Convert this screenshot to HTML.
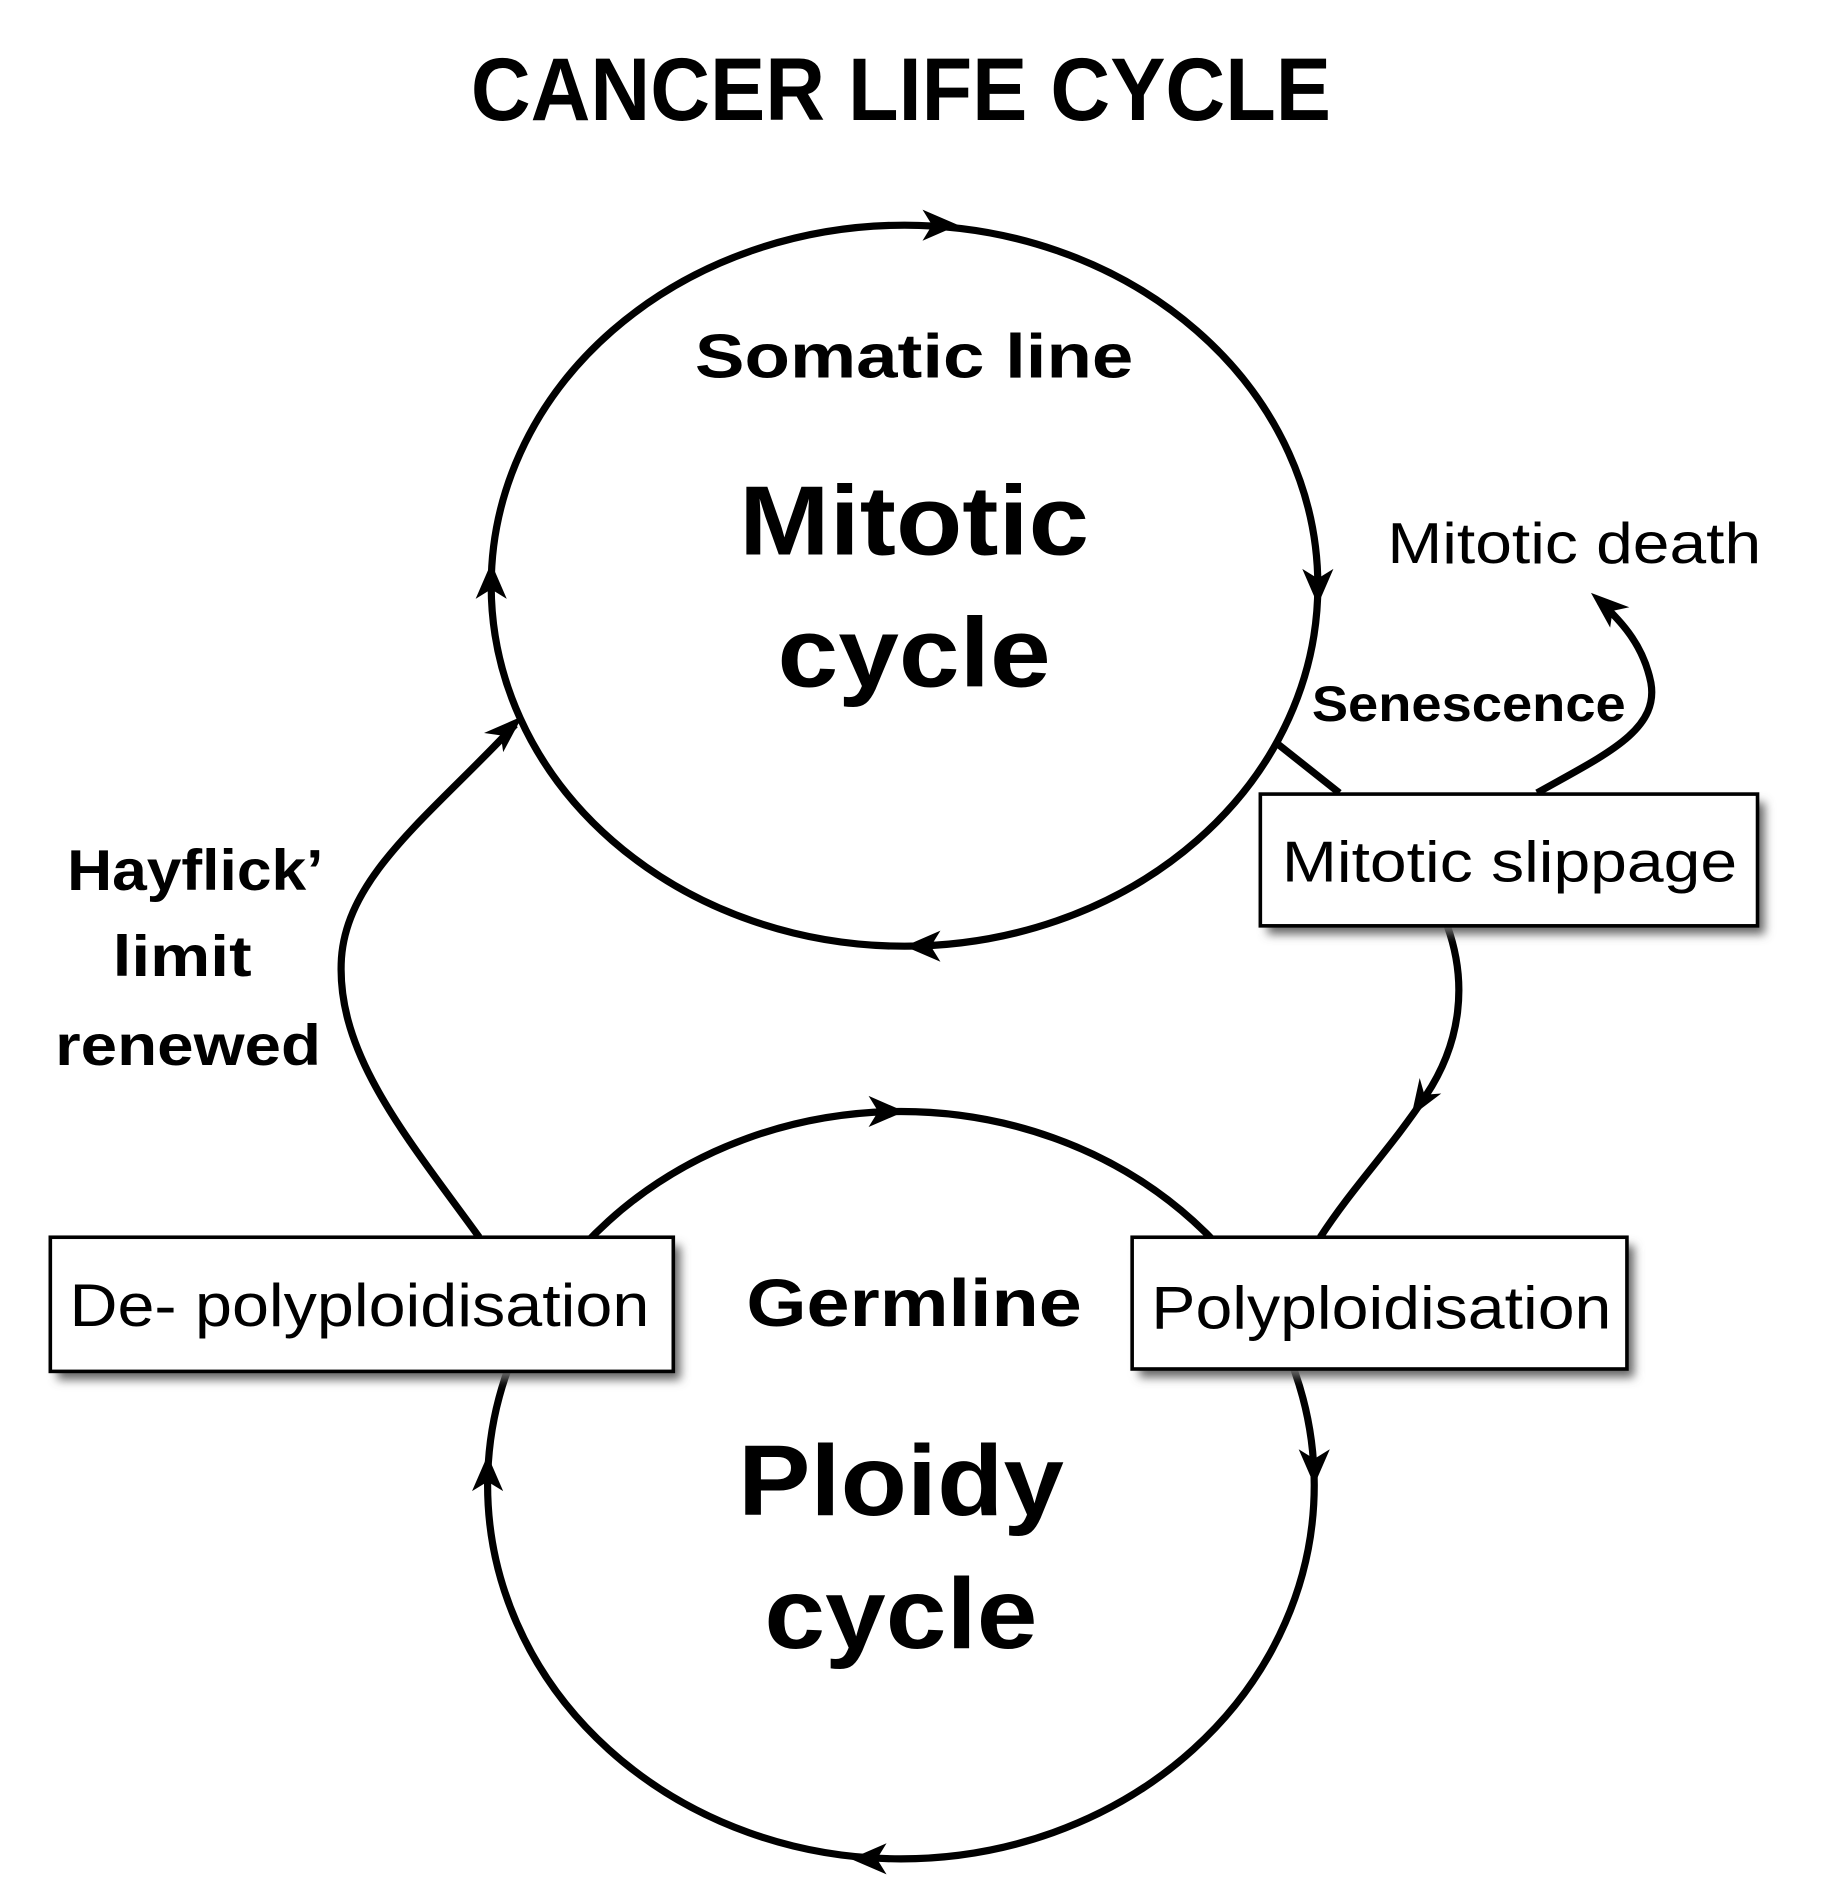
<!DOCTYPE html>
<html><head><meta charset="utf-8"><style>
html,body{margin:0;padding:0;background:#fff;}
svg{display:block;}
text{font-family:"Liberation Sans",sans-serif;fill:#000;}
</style></head><body>
<svg width="1833" height="1890" viewBox="0 0 1530 1578" preserveAspectRatio="none" xmlns="http://www.w3.org/2000/svg">
<defs>
<filter id="sh" x="-10%" y="-10%" width="130%" height="140%"><feGaussianBlur stdDeviation="4"/></filter>
</defs>
<rect width="1530" height="1578" fill="#fff"/>
<text x="752" y="100" font-size="74" font-weight="bold" text-anchor="middle" textLength="718" lengthAdjust="spacingAndGlyphs">CANCER LIFE CYCLE</text>

<g fill="none" stroke="#000" stroke-width="6">
<ellipse cx="755" cy="489" rx="345" ry="301"/>
<ellipse cx="752" cy="1240" rx="345" ry="312"/>
<path d="M400 1033 C340 950 280 880 285 800 C290 730 360 680 430 605"/>
<path d="M1065 620 L1118 662"/>
<path d="M1283 662 C1340 630 1385 610 1378 570 C1372 540 1355 520 1335 502"/>
<path d="M1208 773 C1225 820 1220 870 1190 915 C1160 960 1130 990 1102 1033"/>
</g>
<g fill="#000">
<path d="M800 188 L770 175 L778 188 L770 201 Z"/>
<path d="M1100 505 L1087 475 L1100 483 L1113 475 Z"/>
<path d="M755 790 L785 777 L777 790 L785 803 Z"/>
<path d="M410 470 L397 500 L410 492 L423 500 Z"/>
<path d="M755 928 L725 915 L733 928 L725 941 Z"/>
<path d="M1097 1240 L1084 1210 L1097 1218 L1110 1210 Z"/>
<path d="M710 1552 L740 1539 L732 1552 L740 1565 Z"/>
<path d="M407 1215 L394 1245 L407 1237 L420 1245 Z"/>
<path d="M436 598 L404 612 L418 614 L420 628 Z"/>
<path d="M1328 495 L1360 507 L1346 510 L1344 524 Z"/>
<path d="M1178 932 L1185 900 L1189 914 L1203 913 Z"/>
</g>

<g>
<rect x="48" y="1040" width="520" height="112" fill="#666" filter="url(#sh)"/>
<rect x="42" y="1033" width="520" height="112" fill="#fff" stroke="#000" stroke-width="3"/>
<rect x="951" y="1040" width="413" height="110" fill="#666" filter="url(#sh)"/>
<rect x="945" y="1033" width="413" height="110" fill="#fff" stroke="#000" stroke-width="3"/>
<rect x="1058" y="670" width="415" height="110" fill="#666" filter="url(#sh)"/>
<rect x="1052" y="663" width="415" height="110" fill="#fff" stroke="#000" stroke-width="3"/>
</g>

<text x="763" y="315" font-size="52" font-weight="bold" text-anchor="middle" textLength="366" lengthAdjust="spacingAndGlyphs">Somatic line</text>
<text x="763" y="463" font-size="82" font-weight="bold" text-anchor="middle" textLength="292" lengthAdjust="spacingAndGlyphs">Mitotic</text>
<text x="763" y="573" font-size="82" font-weight="bold" text-anchor="middle" textLength="228" lengthAdjust="spacingAndGlyphs">cycle</text>
<text x="1158" y="470" font-size="48" textLength="312" lengthAdjust="spacingAndGlyphs">Mitotic death</text>
<text x="1095" y="602" font-size="42" font-weight="bold" textLength="262" lengthAdjust="spacingAndGlyphs">Senescence</text>
<text x="1260" y="736" font-size="48" text-anchor="middle" textLength="380" lengthAdjust="spacingAndGlyphs">Mitotic slippage</text>
<text x="163" y="743" font-size="48" font-weight="bold" text-anchor="middle" textLength="214" lengthAdjust="spacingAndGlyphs">Hayflick’</text>
<text x="152" y="815" font-size="48" font-weight="bold" text-anchor="middle" textLength="116" lengthAdjust="spacingAndGlyphs">limit</text>
<text x="157" y="889" font-size="48" font-weight="bold" text-anchor="middle" textLength="222" lengthAdjust="spacingAndGlyphs">renewed</text>
<text x="300" y="1107" font-size="50" text-anchor="middle" textLength="484" lengthAdjust="spacingAndGlyphs">De- polyploidisation</text>
<text x="763" y="1107" font-size="56" font-weight="bold" text-anchor="middle" textLength="280" lengthAdjust="spacingAndGlyphs">Germline</text>
<text x="1153" y="1109" font-size="50" text-anchor="middle" textLength="384" lengthAdjust="spacingAndGlyphs">Polyploidisation</text>
<text x="752" y="1265" font-size="84" font-weight="bold" text-anchor="middle" textLength="272" lengthAdjust="spacingAndGlyphs">Ploidy</text>
<text x="752" y="1376" font-size="84" font-weight="bold" text-anchor="middle" textLength="228" lengthAdjust="spacingAndGlyphs">cycle</text>
</svg>
</body></html>
